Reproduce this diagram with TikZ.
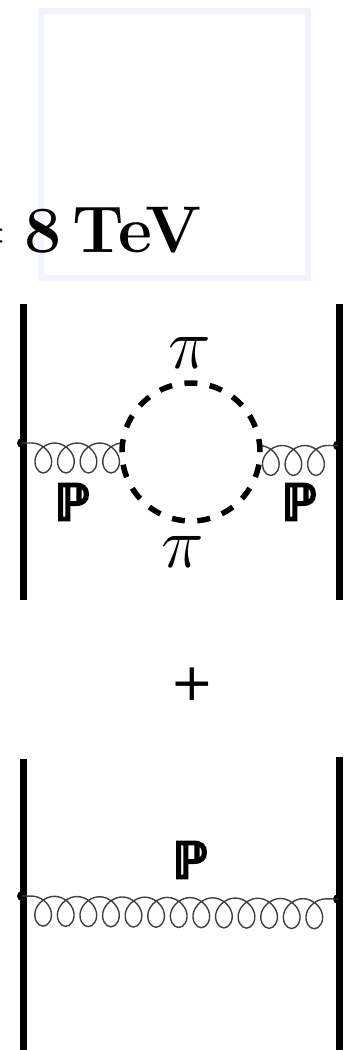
\documentclass[tikz,border=0pt]{standalone}
\usepackage{fix-cm}
\usepackage{amsmath}
\usepackage{fontspec}
\newfontfamily\bbfont[FakeBold=5]{DejaVu Sans}
\newfontfamily\plusfont{DejaVu Sans}
\usepackage{tikz}
\usetikzlibrary{decorations}
\definecolor{framecol}{HTML}{F0F4FD}

% flat on top, loops hanging below
\pgfdeclaredecoration{hangcoil}{turn}{
  \state{turn}[width=22.6pt]{
    \pgfpathcurveto{\pgfpoint{8.9pt}{0pt}}{\pgfpoint{17.3pt}{-7.15pt}}{\pgfpoint{19.2pt}{-15pt}}
    \pgfpathcurveto{\pgfpoint{21.1pt}{-22.85pt}}{\pgfpoint{16.5pt}{-30pt}}{\pgfpoint{11.3pt}{-30pt}}
    \pgfpathcurveto{\pgfpoint{6.1pt}{-30pt}}{\pgfpoint{1.5pt}{-22.85pt}}{\pgfpoint{3.4pt}{-15pt}}
    \pgfpathcurveto{\pgfpoint{5.3pt}{-7.15pt}}{\pgfpoint{13.7pt}{0pt}}{\pgfpoint{22.6pt}{0pt}}
  }
  \state{final}{\pgfpathlineto{\pgfpointdecoratedpathlast}}
}

\begin{document}
\begin{tikzpicture}[
  x=1pt, y=-1pt,
  proton/.style={line width=7pt, line cap=butt},
  vertex/.style={circle, fill=black, inner sep=0pt, minimum size=10pt},
  mesonloop/.style={circle, draw, line width=5.5pt, minimum size=138pt, inner sep=0pt, dash pattern=on 13pt off 12.5pt},
  gluon/.style={line width=1.4pt, black!75, decorate, decoration={hangcoil, pre=lineto, pre length=10pt}},
  gluonout/.style={line width=1.4pt, black!75, decorate, decoration={hangcoil}},
  pionlabel/.style={inner sep=0pt, font=\fontsize{72}{72}\selectfont},
  pomlabel/.style={inner sep=0pt, font=\fontsize{50}{50}\selectfont\bbfont},
  frame/.style={draw=framecol, line width=5.5pt}
]
\useasboundingbox (0,0) rectangle (357,1050);

% empty frame and energy
\node[frame, minimum width=267pt, minimum height=267pt, inner sep=0pt] (box) at (174.5,144.5) {};
\node[inner sep=0pt, anchor=base east, font=\fontsize{66}{66}\selectfont\bfseries] (energy) at (202,252) {$=$\hspace{18.5pt}8\,TeV};

% upper graph
\coordinate (protAtop) at (23.5,304);
\coordinate (protAbot) at (23.5,600);
\coordinate (protBtop) at (339,304);
\coordinate (protBbot) at (339,600);
\draw[proton] (protAtop) -- (protAbot);
\draw[proton] (protBtop) -- (protBbot);
\node[vertex] (vertA) at (22,443) {};
\node[vertex] (vertB) at (338,445.5) {};
\coordinate (ringA) at (123.5,443);
\coordinate (ringB) at (259.5,445.5);
\draw[gluon] (vertA.center) -- (ringA);
\draw[gluonout] (ringB) -- (vertB.center);
\node[mesonloop] (ring) at (191,452) {};
\node[pionlabel] (piTop) at (190,353) {$\pi$};
\node[pionlabel] (piBot) at (183,552) {$\pi$};
\node[pomlabel] (pomA) at (72,502) {ℙ};
\node[pomlabel] (pomB) at (299,502) {ℙ};

\node[inner sep=0pt, font=\fontsize{52}{52}\selectfont\plusfont] (plus) at (192,684) {+};

% lower graph
\coordinate (protCtop) at (23.5,759);
\coordinate (protCbot) at (23.5,1050);
\coordinate (protDtop) at (339,757);
\coordinate (protDbot) at (339,1050);
\draw[proton] (protCtop) -- (protCbot);
\draw[proton] (protDtop) -- (protDbot);
\node[vertex] (vertC) at (22,896) {};
\node[vertex] (vertD) at (338,899) {};
\draw[gluon] (vertC.center) -- (vertD.center);
\node[pomlabel] (pomC) at (190,860) {ℙ};
\end{tikzpicture}
\end{document}
